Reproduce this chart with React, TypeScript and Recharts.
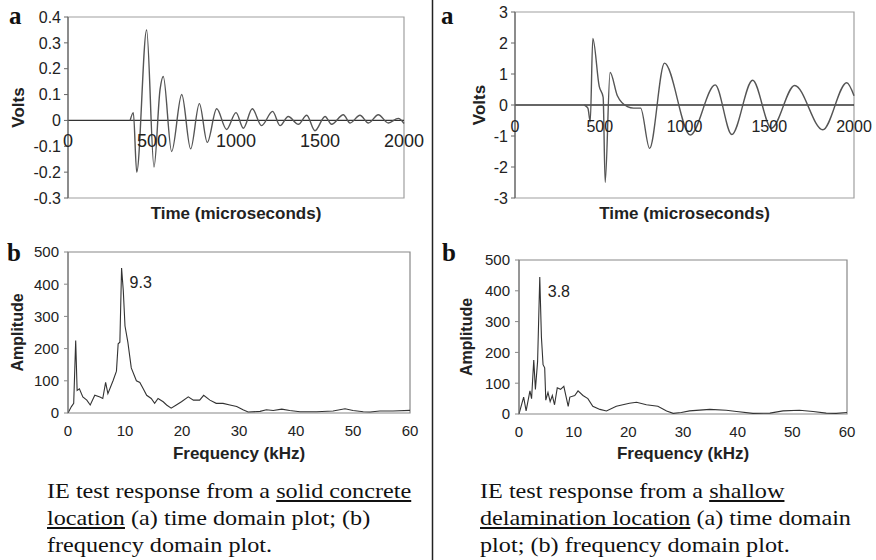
import React from 'react';
import { LineChart, Line, XAxis, YAxis, ReferenceLine, ReferenceArea, ReferenceDot } from 'recharts';

// ---- Data ----
const solidTime = [370, 389, 409, 468, 512, 548, 567, 617, 677, 730, 782, 829, 885, 944, 1000, 1044, 1097, 1152, 1218, 1262, 1311, 1371, 1421, 1470, 1530, 1569, 1639, 1679, 1738, 1788, 1847, 1907, 1966, 2000];
const solidVolts = [0, 0.03, -0.2, 0.35, -0.18, 0.12, 0.17, -0.12, 0.1, -0.11, 0.065, -0.085, 0.045, -0.035, 0.03, -0.03, 0.045, -0.02, 0.035, -0.02, 0.015, -0.015, 0.02, -0.04, 0.015, -0.015, 0.022, -0.01, 0.02, -0.01, 0.022, -0.01, 0.008, -0.012];

const delamTime = [409, 430, 444, 459, 497, 520, 532, 561, 604, 663, 700, 741, 794, 882, 1034, 1181, 1279, 1402, 1513, 1650, 1816, 1957, 2000];
const delamVolts = [0, -0.1, -0.54, 2.15, 0.6, 0.25, -2.5, 1.05, 0.3, -0.05, -0.1, -0.1, -1.4, 1.35, -0.97, 0.65, -0.95, 0.8, -0.75, 0.63, -0.8, 0.72, 0.3];

const solidFreq = [0, 0.6, 1.0, 1.35, 1.6, 2.0, 2.6, 3.3, 3.9, 4.7, 5.6, 6.1, 6.6, 7.0, 7.9, 8.5, 8.8, 9.1, 9.4, 9.7, 10.0, 10.5, 11.1, 12.0, 12.6, 13.2, 13.8, 14.6, 15.2, 15.8, 16.7, 17.3, 18.1, 19.0, 19.9, 21.1, 22.0, 23.1, 23.8, 24.9, 26.0, 27.2, 28.4, 29.6, 30.7, 31.6, 33.7, 34.8, 36.0, 37.5, 38.9, 40.7, 43.6, 46.5, 48.6, 50.0, 51.8, 53.0, 54.7, 57.0, 60.0];
const solidAmp = [0, 20, 30, 225, 70, 75, 50, 40, 25, 55, 50, 45, 95, 60, 100, 130, 215, 220, 450, 380, 270, 220, 140, 100, 95, 75, 55, 45, 30, 45, 35, 25, 15, 25, 35, 50, 40, 40, 55, 40, 30, 30, 25, 20, 10, 3, 5, 10, 8, 12, 8, 4, 4, 6, 13, 8, 4, 3, 6, 6, 8];

const delamFreq = [0, 0.85, 1.3, 2.0, 2.3, 2.7, 3.0, 3.4, 3.8, 4.1, 4.4, 4.7, 4.9, 5.3, 5.7, 6.1, 6.5, 7.0, 7.6, 8.2, 9.0, 9.3, 10.2, 10.8, 11.7, 12.6, 13.5, 14.8, 16.0, 17.8, 20.2, 21.5, 23.3, 25.4, 27.0, 28.2, 29.7, 31.2, 34.9, 37.9, 39.8, 42.8, 45.9, 48.3, 51.3, 53.8, 56.2, 58.0, 60.0];
const delamAmp = [0, 55, 10, 75, 50, 175, 80, 170, 445, 250, 160, 150, 45, 70, 40, 60, 30, 85, 80, 90, 25, 55, 60, 75, 60, 50, 25, 15, 10, 25, 35, 38, 30, 25, 10, 2, 5, 10, 15, 12, 8, 2, 3, 10, 12, 8, 3, 2, 5];

const solidVoltTicks = [-0.3, -0.2, -0.1, 0, 0.1, 0.2, 0.3, 0.4];
const delamVoltTicks = [-3, -2, -1, 0, 1, 2, 3];
const timeTicks = [0, 500, 1000, 1500, 2000];
const freqTicks = [0, 10, 20, 30, 40, 50, 60];
const ampTicks = [0, 100, 200, 300, 400, 500];

const solidPeak = { f: 9.4, a: 450, label: '9.3' };
const delamPeak = { f: 3.8, a: 445, label: '3.8' };

const toRows = (xs: number[], ys: number[], xk: string, yk: string) =>
  xs.map((x, i) => ({ [xk]: x, [yk]: ys[i] }));

const SANS = '"Liberation Sans", Arial, Helvetica, sans-serif';
const SERIF = '"Liberation Serif", "Times New Roman", Times, serif';

type TimeProps = {
  data: any[];
  domain: [number, number];
  ticks: number[];
  left: number;
  width: number;
  top: number;
  right: number;
  yWidth: number;
  xTickFont: number;
  yTickFont: number;
  xTickOffset: number;
  yLabelOffset: number;
};

function TimeChart(p: TimeProps) {
  return (
    <div style={{ position: 'absolute', left: p.left, top: 0 }}>
      <LineChart width={p.width} height={230} data={p.data} margin={{ top: p.top, right: p.right, left: 0, bottom: 0 }}>
        <XAxis
          dataKey="t"
          type="number"
          domain={[0, 2000]}
          ticks={timeTicks}
          tick={false}
          axisLine={false}
          tickLine={false}
          height={32}
          label={{ value: 'Time (microseconds)', position: 'insideBottom', offset: 11, fontSize: 17, fontWeight: 'bold', fill: '#222' }}
        />
        <YAxis
          type="number"
          domain={p.domain}
          ticks={p.ticks}
          interval={0}
          width={p.yWidth}
          allowDataOverflow
          tick={{ fontSize: p.yTickFont, fill: '#222' }}
          tickSize={4}
          tickMargin={3}
          axisLine={{ stroke: '#666', strokeWidth: 1.2 }}
          tickLine={{ stroke: '#666' }}
          label={{ value: 'Volts', angle: -90, position: 'insideLeft', offset: p.yLabelOffset, fontSize: 17, fontWeight: 'bold', fill: '#222', style: { textAnchor: 'middle' } }}
        />
        <ReferenceArea x1={0} x2={2000} y1={p.domain[0]} y2={p.domain[1]} fill="none" fillOpacity={0} stroke="#a0a0a0" strokeWidth={1.2} />
        <ReferenceLine y={0} stroke="#333" strokeWidth={1.3} />
        {timeTicks.map((t) => (
          <ReferenceDot
            key={t}
            x={t}
            y={0}
            r={0}
            fill="none"
            stroke="none"
            label={{ value: String(t), position: 'bottom', offset: p.xTickOffset, fontSize: p.xTickFont, fill: '#222' }}
          />
        ))}
        <Line dataKey="v" type="monotone" stroke="#555" strokeWidth={1.4} dot={false} isAnimationActive={false} />
      </LineChart>
    </div>
  );
}

type FreqProps = {
  data: any[];
  left: number;
  width: number;
  top: number;
  right: number;
  yWidth: number;
  xHeight: number;
  yLabelOffset: number;
  peak: { f: number; a: number; label: string };
};

function FreqChart(p: FreqProps) {
  return (
    <div style={{ position: 'absolute', left: p.left, top: 235 }}>
      <LineChart width={p.width} height={230} data={p.data} margin={{ top: p.top, right: p.right, left: 0, bottom: 0 }}>
        <XAxis
          dataKey="f"
          type="number"
          domain={[0, 60]}
          ticks={freqTicks}
          interval={0}
          tick={{ fontSize: 15, fill: '#222' }}
          tickLine={false}
          tickSize={4}
          tickMargin={8}
          axisLine={false}
          height={p.xHeight}
          label={{ value: 'Frequency (kHz)', position: 'insideBottom', offset: 6, fontSize: 17, fontWeight: 'bold', fill: '#222' }}
        />
        <YAxis
          type="number"
          domain={[0, 500]}
          ticks={ampTicks}
          interval={0}
          width={p.yWidth}
          allowDataOverflow
          tick={{ fontSize: 15, fill: '#222' }}
          tickSize={4}
          tickMargin={5}
          axisLine={{ stroke: '#777' }}
          tickLine={{ stroke: '#888' }}
          label={{ value: 'Amplitude', angle: -90, position: 'insideLeft', offset: p.yLabelOffset, fontSize: 16, fontWeight: 'bold', fill: '#222', style: { textAnchor: 'middle' } }}
        />
        <ReferenceArea x1={0} x2={60} y1={0} y2={500} fill="none" fillOpacity={0} stroke="#888" strokeWidth={1.2} />
        <Line dataKey="a" type="linear" stroke="#333" strokeWidth={1.1} dot={false} isAnimationActive={false} />
        <ReferenceDot
          x={p.peak.f}
          y={p.peak.a}
          r={0}
          fill="none"
          stroke="none"
          label={{ value: p.peak.label, position: 'right', offset: 8, dy: 14, fontSize: 16, fill: '#222' }}
        />
      </LineChart>
    </div>
  );
}

const captionStyle: React.CSSProperties = {
  position: 'absolute',
  top: 477,
  fontFamily: SERIF,
  fontSize: 22,
  lineHeight: '27px',
  color: '#111',
  whiteSpace: 'nowrap',
  transform: 'scaleX(1.1)',
  transformOrigin: 'left top',
};

export default function App() {
  const solidTimeData = toRows(solidTime, solidVolts, 't', 'v');
  const delamTimeData = toRows(delamTime, delamVolts, 't', 'v');
  const solidFreqData = toRows(solidFreq, solidAmp, 'f', 'a');
  const delamFreqData = toRows(delamFreq, delamAmp, 'f', 'a');

  return (
    <div style={{ position: 'absolute', left: 0, top: 0, width: 876, height: 560, background: '#fff', fontFamily: SANS, overflow: 'hidden' }}>
      <TimeChart
        data={solidTimeData}
        domain={[-0.3, 0.4]}
        ticks={solidVoltTicks}
        left={0}
        width={432}
        top={17}
        right={28}
        yWidth={68}
        xTickFont={18}
        yTickFont={16}
        xTickOffset={14}
        yLabelOffset={18}
      />
      <TimeChart
        data={delamTimeData}
        domain={[-3, 3]}
        ticks={delamVoltTicks}
        left={433}
        width={443}
        top={12}
        right={22}
        yWidth={82}
        xTickFont={16}
        yTickFont={16}
        xTickOffset={16}
        yLabelOffset={46}
      />
      <FreqChart data={solidFreqData} left={0} width={432} top={17} right={22} yWidth={68} xHeight={52} yLabelOffset={17} peak={solidPeak} />
      <FreqChart data={delamFreqData} left={433} width={443} top={25} right={29} yWidth={86} xHeight={51} yLabelOffset={33} peak={delamPeak} />

      <svg width={876} height={560} style={{ position: 'absolute', left: 0, top: 0, pointerEvents: 'none' }}>
        <line x1={432.5} y1={0} x2={432.5} y2={560} stroke="#222" strokeWidth={1.5} />
        <text x={9} y={24} fontFamily={SERIF} fontWeight="bold" fontSize={25} fill="#111">a</text>
        <text x={441} y={24} fontFamily={SERIF} fontWeight="bold" fontSize={25} fill="#111">a</text>
        <text x={7} y={261} fontFamily={SERIF} fontWeight="bold" fontSize={25} fill="#111">b</text>
        <text x={442} y={261} fontFamily={SERIF} fontWeight="bold" fontSize={25} fill="#111">b</text>
      </svg>

      <div style={{ ...captionStyle, left: 47 }}>
        IE test response from a <u>solid concrete</u>
        <br />
        <u>location</u> (a) time domain plot; (b)
        <br />
        frequency domain plot.
      </div>
      <div style={{ ...captionStyle, left: 480 }}>
        IE test response from a <u>shallow</u>
        <br />
        <u>delamination location</u> (a) time domain
        <br />
        plot; (b) frequency domain plot.
      </div>
    </div>
  );
}
